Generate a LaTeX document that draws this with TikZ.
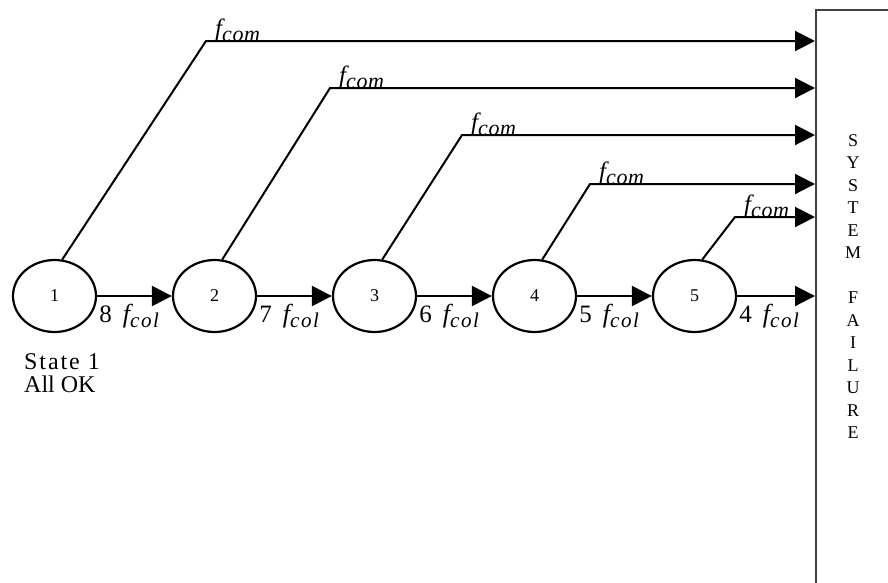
\documentclass[tikz,border=0pt]{standalone}
\usepackage{fontspec}
\setmainfont{Liberation Serif}
\usetikzlibrary{arrows.meta,shapes.geometric}

% rate labels: common-cause f_com and collision f_col
\newcommand{\fcomlabel}{{\fontsize{25}{25}\selectfont\itshape f}\raisebox{-5pt}{\fontsize{22}{22}\selectfont\itshape\addfontfeatures{LetterSpace=3}com}}
\newcommand{\fcollabel}[1]{{\fontsize{25}{25}\selectfont #1}\hspace{11pt}{\fontsize{26}{26}\selectfont\itshape f}\raisebox{-5pt}{\fontsize{21}{21}\selectfont\itshape\addfontfeatures{LetterSpace=8}col}}

\begin{document}
\begin{tikzpicture}[x=1pt,y=-1pt,
  state/.style={ellipse,draw,line width=2.2pt,minimum width=83pt,minimum height=72pt,
    inner sep=0pt,font=\fontsize{18}{18}\selectfont},
  flow/.style={line width=2pt,-{Triangle[length=20pt,width=20pt]}},
  lbl/.style={inner sep=0pt,anchor=base west}]
\useasboundingbox (0,0) rectangle (888,582);
\clip (0,0) rectangle (888,582);

% absorbing state box (runs off the page to the right and bottom)
\node[draw=black!75,line width=1.5pt,anchor=north west,minimum width=200pt,
  minimum height=700pt,inner sep=0pt] (fail) at (815,9) {};
\node[anchor=north,inner sep=0pt,align=center,font=\fontsize{18}{22.5}\selectfont]
  (failtext) at (853,134) {S\\Y\\S\\T\\E\\M\\[22.5pt]F\\A\\I\\L\\U\\R\\E};

% operating states
\foreach \i/\x in {1/54.5,2/214.5,3/374.5,4/534.5,5/694.5}
  \node[state] (s\i) at (\x,296) {\i};

% bends of the common-cause transitions
\coordinate (c1) at (206,41);
\coordinate (c2) at (330,88);
\coordinate (c3) at (462,135);
\coordinate (c4) at (590,184);
\coordinate (c5) at (735,217);

\foreach \i in {1,...,5} {
  \draw[flow] (s\i.78) -- (c\i) -- (fail.west |- c\i);
  \node[lbl,xshift=9pt,yshift=5pt] (com\i) at (c\i) {\fcomlabel};
}

% collision transitions
\draw[flow] (s1.east) -- (s2.west);
\draw[flow] (s2.east) -- (s3.west);
\draw[flow] (s3.east) -- (s4.west);
\draw[flow] (s4.east) -- (s5.west);
\draw[flow] (s5.east) -- (fail.west |- s5);
\foreach \i/\n in {1/8,2/7,3/6,4/5,5/4}
  \node[lbl,xshift=2pt,yshift=-26pt] (col\i) at (s\i.east) {\fcollabel{\n}};

\node[anchor=north west,inner sep=0pt,align=left,font=\fontsize{24}{23}\selectfont]
  (ok) at (24,353) {{\addfontfeatures{LetterSpace=8}State 1}\\All OK};
\end{tikzpicture}
\end{document}
